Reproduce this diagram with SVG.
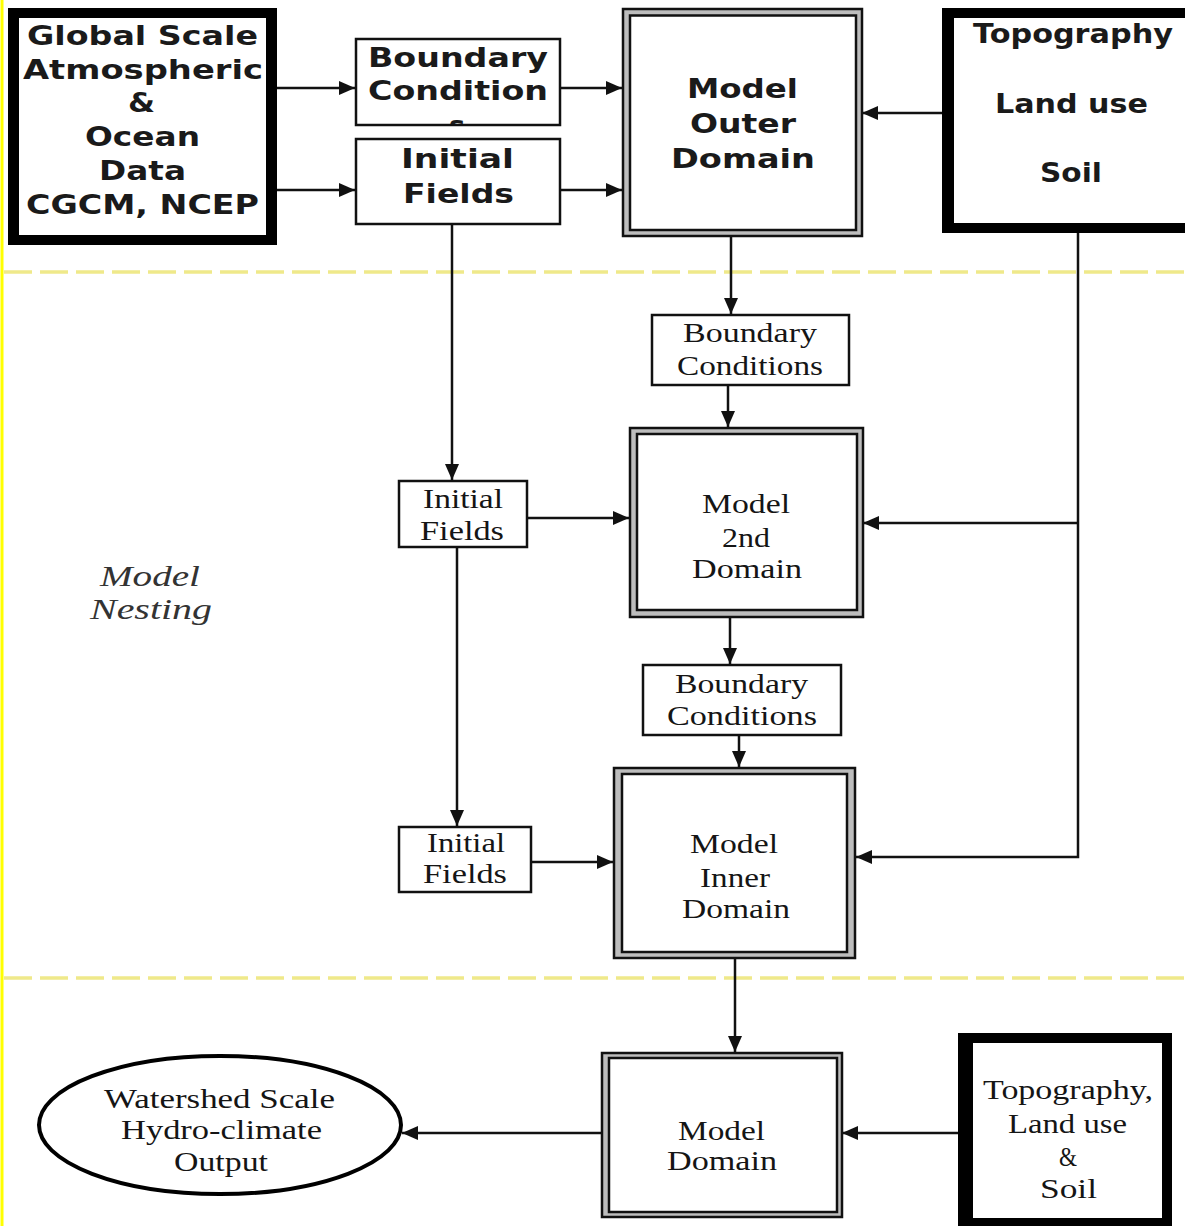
<svg xmlns="http://www.w3.org/2000/svg" width="1185" height="1226" viewBox="0 0 1185 1226">
<defs>
<marker id="arr" markerUnits="userSpaceOnUse" markerWidth="16" markerHeight="14" viewBox="0 0 16 14" refX="16" refY="7" orient="auto"><path d="M0,0 L16,7 L0,14 z" fill="#111"/></marker>
<clipPath id="bcclip"><rect x="357" y="40" width="202" height="84"/></clipPath>
</defs>
<style>
.bs{font-family:"DejaVu Sans",Verdana,sans-serif;font-weight:bold;font-size:27px;fill:#1a1a1a}
.sf{font-family:"Liberation Serif","Times New Roman",serif;font-size:28px;fill:#151515}
.it{font-family:"Liberation Serif","Times New Roman",serif;font-style:italic;font-size:29px;fill:#333}
.thin{fill:#fff;stroke:#111;stroke-width:2.5}
.blk{fill:#000}
.wht{fill:#fff}
.dblo{fill:#bdbdbd;stroke:#111;stroke-width:2.5}
.dbli{fill:#fff;stroke:#111;stroke-width:2.5}
.con{fill:none;stroke:#111;stroke-width:2.5}
.dash{stroke:#efe98a;stroke-width:3.5;stroke-dasharray:28 8}
</style>
<rect width="1185" height="1226" fill="#fff"/>
<line x1="2" y1="0" x2="2" y2="1226" stroke="#ffff00" stroke-width="3"/>
<line class="dash" x1="4" y1="272" x2="1185" y2="272"/>
<line class="dash" x1="4" y1="978" x2="1185" y2="978"/>

<g id="connectors">
<path class="con" d="M277,88 H355" marker-end="url(#arr)"/>
<path class="con" d="M277,190 H355" marker-end="url(#arr)"/>
<path class="con" d="M561,88 H622" marker-end="url(#arr)"/>
<path class="con" d="M561,190 H622" marker-end="url(#arr)"/>
<path class="con" d="M942,113 H862" marker-end="url(#arr)"/>
<path class="con" d="M731,237 V314" marker-end="url(#arr)"/>
<path class="con" d="M728,385 V427" marker-end="url(#arr)"/>
<path class="con" d="M452,224 V480" marker-end="url(#arr)"/>
<path class="con" d="M527,518 H629" marker-end="url(#arr)"/>
<path class="con" d="M1078,233 V857 H856" marker-end="url(#arr)"/>
<path class="con" d="M1078,523 H863" marker-end="url(#arr)"/>
<path class="con" d="M457,547 V826" marker-end="url(#arr)"/>
<path class="con" d="M730,617 V664" marker-end="url(#arr)"/>
<path class="con" d="M739,735 V767" marker-end="url(#arr)"/>
<path class="con" d="M531,862 H613" marker-end="url(#arr)"/>
<path class="con" d="M735,958 V1052" marker-end="url(#arr)"/>
<path class="con" d="M958,1133 H842" marker-end="url(#arr)"/>
<path class="con" d="M601,1133 H402" marker-end="url(#arr)"/>
</g>

<g id="global-data">
<rect class="blk" x="8" y="8" width="269" height="237"/>
<rect class="wht" x="19" y="18" width="247" height="217"/>
<text class="bs" x="27" y="45" textLength="231" lengthAdjust="spacingAndGlyphs">Global Scale</text>
<text class="bs" x="23" y="79" textLength="240" lengthAdjust="spacingAndGlyphs">Atmospheric</text>
<text class="bs" x="128" y="112" textLength="27" lengthAdjust="spacingAndGlyphs">&amp;</text>
<text class="bs" x="85" y="146" textLength="115" lengthAdjust="spacingAndGlyphs">Ocean</text>
<text class="bs" x="99" y="180" textLength="87" lengthAdjust="spacingAndGlyphs">Data</text>
<text class="bs" x="26" y="214" textLength="233" lengthAdjust="spacingAndGlyphs">CGCM, NCEP</text>
</g>

<g id="bc-top">
<rect class="thin" x="356" y="39" width="204" height="86"/>
<text class="bs" x="368" y="67" textLength="180" lengthAdjust="spacingAndGlyphs">Boundary</text>
<text class="bs" x="368" y="100" textLength="180" lengthAdjust="spacingAndGlyphs">Condition</text>
<text class="bs" x="449" y="135" clip-path="url(#bcclip)">s</text>
</g>

<g id="init-top">
<rect class="thin" x="356" y="139" width="204" height="85"/>
<text class="bs" x="401" y="168" textLength="113" lengthAdjust="spacingAndGlyphs">Initial</text>
<text class="bs" x="403" y="203" textLength="111" lengthAdjust="spacingAndGlyphs">Fields</text>
</g>

<g id="model-outer">
<rect class="dblo" x="623" y="9" width="239" height="227"/>
<rect class="dbli" x="630" y="15.5" width="226" height="214.5"/>
<text class="bs" x="687" y="98" textLength="111" lengthAdjust="spacingAndGlyphs">Model</text>
<text class="bs" x="690" y="133" textLength="106" lengthAdjust="spacingAndGlyphs">Outer</text>
<text class="bs" x="671" y="168" textLength="144" lengthAdjust="spacingAndGlyphs">Domain</text>
</g>

<g id="topo-top">
<rect class="blk" x="942" y="8" width="250" height="225"/>
<rect class="wht" x="954" y="18" width="240" height="205"/>
<text class="bs" x="973" y="43" textLength="200" lengthAdjust="spacingAndGlyphs">Topography</text>
<text class="bs" x="995" y="113" textLength="153" lengthAdjust="spacingAndGlyphs">Land use</text>
<text class="bs" x="1040" y="182" textLength="62" lengthAdjust="spacingAndGlyphs">Soil</text>
</g>

<g id="bc-mid">
<rect class="thin" x="652" y="315" width="197" height="70"/>
<text class="sf" x="683" y="342" textLength="134" lengthAdjust="spacingAndGlyphs">Boundary</text>
<text class="sf" x="677" y="375" textLength="146" lengthAdjust="spacingAndGlyphs">Conditions</text>
</g>

<g id="model-2nd">
<rect class="dblo" x="630" y="428" width="233" height="189"/>
<rect class="dbli" x="637" y="434" width="220" height="176"/>
<text class="sf" x="702" y="513" textLength="88" lengthAdjust="spacingAndGlyphs">Model</text>
<text class="sf" x="722" y="547" textLength="48" lengthAdjust="spacingAndGlyphs">2nd</text>
<text class="sf" x="692" y="578" textLength="110" lengthAdjust="spacingAndGlyphs">Domain</text>
</g>

<g id="init-mid1">
<rect class="thin" x="399" y="481" width="128" height="66"/>
<text class="sf" x="423" y="508" textLength="80" lengthAdjust="spacingAndGlyphs">Initial</text>
<text class="sf" x="420" y="540" textLength="84" lengthAdjust="spacingAndGlyphs">Fields</text>
</g>

<g id="bc-2">
<rect class="thin" x="643" y="665" width="198" height="70"/>
<text class="sf" x="675" y="693" textLength="133" lengthAdjust="spacingAndGlyphs">Boundary</text>
<text class="sf" x="667" y="725" textLength="150" lengthAdjust="spacingAndGlyphs">Conditions</text>
</g>

<g id="model-inner">
<rect class="dblo" x="614" y="768" width="241" height="190"/>
<rect class="dbli" x="622" y="774" width="225" height="178"/>
<text class="sf" x="690" y="853" textLength="88" lengthAdjust="spacingAndGlyphs">Model</text>
<text class="sf" x="700" y="887" textLength="70" lengthAdjust="spacingAndGlyphs">Inner</text>
<text class="sf" x="682" y="918" textLength="108" lengthAdjust="spacingAndGlyphs">Domain</text>
</g>

<g id="init-mid2">
<rect class="thin" x="399" y="827" width="132" height="65"/>
<text class="sf" x="427" y="852" textLength="78" lengthAdjust="spacingAndGlyphs">Initial</text>
<text class="sf" x="423" y="883" textLength="84" lengthAdjust="spacingAndGlyphs">Fields</text>
</g>

<g id="nesting-label">
<text class="it" x="100" y="586" textLength="100" lengthAdjust="spacingAndGlyphs">Model</text>
<text class="it" x="90" y="619" textLength="122" lengthAdjust="spacingAndGlyphs">Nesting</text>
</g>

<g id="model-domain">
<rect class="dblo" x="602" y="1053" width="240" height="164"/>
<rect class="dbli" x="609" y="1058" width="228" height="154"/>
<text class="sf" x="678" y="1140" textLength="87" lengthAdjust="spacingAndGlyphs">Model</text>
<text class="sf" x="667" y="1170" textLength="110" lengthAdjust="spacingAndGlyphs">Domain</text>
</g>

<g id="topo-bottom">
<rect class="blk" x="958" y="1033" width="214" height="200"/>
<rect class="wht" x="973" y="1043" width="189" height="175"/>
<text class="sf" x="983" y="1099" textLength="170" lengthAdjust="spacingAndGlyphs">Topography,</text>
<text class="sf" x="1008" y="1133" textLength="119" lengthAdjust="spacingAndGlyphs">Land use</text>
<text class="sf" x="1059" y="1166" textLength="18" lengthAdjust="spacingAndGlyphs">&amp;</text>
<text class="sf" x="1040" y="1198" textLength="57" lengthAdjust="spacingAndGlyphs">Soil</text>
</g>

<g id="output">
<ellipse cx="220" cy="1125" rx="181" ry="69" fill="#fff" stroke="#000" stroke-width="4"/>
<text class="sf" x="104" y="1108" textLength="231" lengthAdjust="spacingAndGlyphs">Watershed Scale</text>
<text class="sf" x="121" y="1139" textLength="201" lengthAdjust="spacingAndGlyphs">Hydro-climate</text>
<text class="sf" x="174" y="1171" textLength="94" lengthAdjust="spacingAndGlyphs">Output</text>
</g>
</svg>
